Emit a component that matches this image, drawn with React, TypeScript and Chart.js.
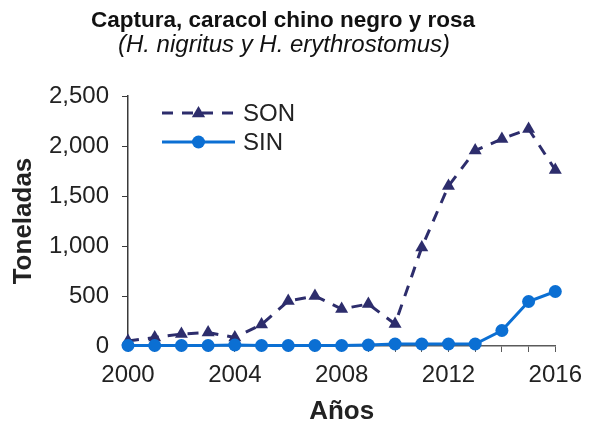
import React, { useEffect, useRef } from "react";
import { Chart, registerables } from "chart.js";

Chart.register(...registerables);

const years = [2000, 2001, 2002, 2003, 2004, 2005, 2006, 2007, 2008, 2009, 2010, 2011, 2012, 2013, 2014, 2015, 2016];
const sonValues = [50, 85, 120, 135, 85, 215, 450, 500, 370, 420, 220, 985, 1600, 1955, 2070, 2170, 1760];
const sinValues = [5, 5, 5, 5, 10, 5, 5, 5, 5, 10, 20, 20, 20, 20, 155, 445, 545];
const yTicks = [0, 500, 1000, 1500, 2000, 2500];
const xLabelYears = [2000, 2004, 2008, 2012, 2016];

const titleLine1 = "Captura, caracol chino negro y rosa";
const titleLine2 = "(H. nigritus y H. erythrostomus)";
const seriesNames = ["SON", "SIN"];

const FONT = "'Liberation Sans', Arial, sans-serif";
const SON_COLOR = "#2D2D6C";
const SIN_COLOR = "#0B6FD3";
const TEXT = "#222222";
const AXIS_X = "#5a5a5a";
const AXIS_Y = "#3a3a3a";

const titlePlugin = {
  id: "customTitle",
  afterDraw(chart: any) {
    const ctx = chart.ctx;
    ctx.save();
    ctx.fillStyle = "#111111";
    ctx.textAlign = "center";
    ctx.textBaseline = "alphabetic";
    ctx.font = `bold 22.5px ${FONT}`;
    ctx.fillText(titleLine1, 283, 27);
    ctx.font = `italic 24px ${FONT}`;
    ctx.fillText(titleLine2, 284, 52);
    ctx.restore();
  },
};

const legendPlugin = {
  id: "customLegend",
  afterDraw(chart: any) {
    const ctx = chart.ctx;
    const a = chart.chartArea;
    const x0 = a.left + 34;
    const x1 = a.left + 107;
    const xm = (x0 + x1) / 2;
    const rows = [a.top + 17, a.top + 46];
    ctx.save();
    ctx.strokeStyle = SON_COLOR;
    ctx.lineWidth = 3;
    ctx.setLineDash([11, 9]);
    ctx.beginPath();
    ctx.moveTo(x0, rows[0]);
    ctx.lineTo(x1, rows[0]);
    ctx.stroke();
    ctx.setLineDash([]);
    ctx.fillStyle = SON_COLOR;
    ctx.beginPath();
    const r = 7;
    ctx.moveTo(xm, rows[0] - r);
    ctx.lineTo(xm + r * 0.95, rows[0] + r * 0.6);
    ctx.lineTo(xm - r * 0.95, rows[0] + r * 0.6);
    ctx.closePath();
    ctx.fill();
    ctx.strokeStyle = SIN_COLOR;
    ctx.lineWidth = 3;
    ctx.beginPath();
    ctx.moveTo(x0, rows[1]);
    ctx.lineTo(x1, rows[1]);
    ctx.stroke();
    ctx.fillStyle = SIN_COLOR;
    ctx.beginPath();
    ctx.arc(xm, rows[1], 6.5, 0, Math.PI * 2);
    ctx.fill();
    ctx.fillStyle = TEXT;
    ctx.font = `24px ${FONT}`;
    ctx.textAlign = "left";
    ctx.textBaseline = "middle";
    ctx.fillText(seriesNames[0], x1 + 8, rows[0] + 1);
    ctx.fillText(seriesNames[1], x1 + 8, rows[1] + 1);
    ctx.restore();
  },
};

export default function App() {
  const ref = useRef<HTMLCanvasElement | null>(null);
  useEffect(() => {
    if (!ref.current) return;
    const chart = new Chart(ref.current, {
      type: "line",
      data: {
        datasets: [
          {
            label: seriesNames[1],
            data: years.map((y, i) => ({ x: y, y: sinValues[i] })),
            borderColor: SIN_COLOR,
            backgroundColor: SIN_COLOR,
            borderWidth: 3,
            pointStyle: "circle",
            pointRadius: 6.5,
            pointBorderWidth: 0,
            pointBackgroundColor: SIN_COLOR,
            tension: 0,
            clip: false as any,
          },
          {
            label: seriesNames[0],
            data: years.map((y, i) => ({ x: y, y: sonValues[i] })),
            borderColor: SON_COLOR,
            backgroundColor: SON_COLOR,
            borderWidth: 3,
            borderDash: [11, 9],
            pointStyle: "triangle",
            pointRadius: 7.5,
            pointBorderWidth: 0,
            pointBackgroundColor: SON_COLOR,
            tension: 0,
            clip: false as any,
          },
        ],
      },
      options: {
        responsive: false,
        animation: false,
        devicePixelRatio: 1,
        layout: { padding: { top: 96, right: 35, left: 0, bottom: 0 } },
        plugins: {
          legend: { display: false },
          title: { display: false },
          tooltip: { enabled: false },
        },
        scales: {
          x: {
            type: "linear",
            min: 2000,
            max: 2016,
            afterBuildTicks(scale: any) {
              scale.ticks = years.map((v) => ({ value: v }));
            },
            afterFit(scale: any) {
              scale.height = 81;
            },
            grid: {
              drawOnChartArea: false,
              drawTicks: true,
              tickLength: 6,
              color: AXIS_X,
            },
            border: { color: AXIS_X, width: 1.5 },
            ticks: {
              autoSkip: false,
              maxRotation: 0,
              padding: 9,
              color: TEXT,
              font: { family: FONT, size: 24 },
              callback: (v: any) => (xLabelYears.includes(Number(v)) ? String(v) : ""),
            },
            title: {
              display: true,
              text: "Años",
              color: TEXT,
              font: { family: FONT, size: 26, weight: "bold" },
              padding: { top: 0, bottom: 0 },
            },
          },
          y: {
            min: 0,
            max: 2500,
            afterBuildTicks(scale: any) {
              scale.ticks = yTicks.map((v) => ({ value: v }));
            },
            afterFit(scale: any) {
              scale.width = 128;
            },
            grid: {
              drawOnChartArea: false,
              drawTicks: true,
              tickLength: 6,
              color: AXIS_Y,
            },
            border: { color: AXIS_Y, width: 1.5 },
            ticks: {
              padding: 13,
              color: TEXT,
              font: { family: FONT, size: 24 },
              callback: (v: any) => Number(v).toLocaleString("en-US"),
            },
            title: {
              display: true,
              text: "Toneladas",
              color: TEXT,
              font: { family: FONT, size: 26, weight: "bold" },
              padding: { top: 8, bottom: 0 },
            },
          },
        },
      },
      plugins: [titlePlugin, legendPlugin],
    } as any);
    return () => chart.destroy();
  }, []);
  return (
    <div style={{ position: "absolute", left: 0, top: 0, width: 591, height: 427, background: "#fff" }}>
      <canvas ref={ref} width={591} height={427} />
    </div>
  );
}
